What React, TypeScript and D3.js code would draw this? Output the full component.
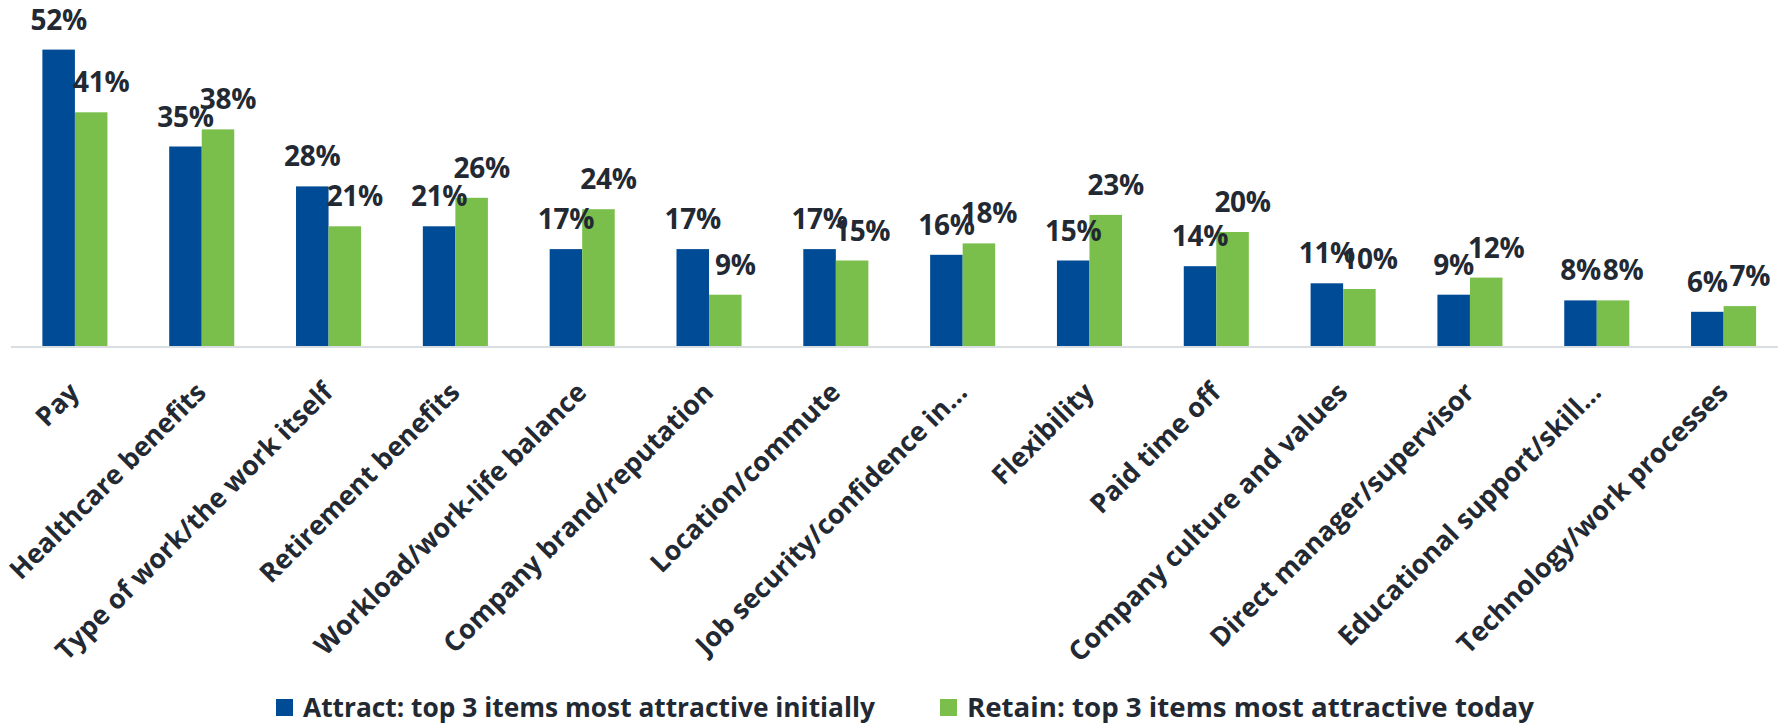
import React from "react";
import * as d3 from "d3";

const categories = [
  "Pay",
  "Healthcare benefits",
  "Type of work/the work itself",
  "Retirement benefits",
  "Workload/work-life balance",
  "Company brand/reputation",
  "Location/commute",
  "Job security/confidence in…",
  "Flexibility",
  "Paid time off",
  "Company culture and values",
  "Direct manager/supervisor",
  "Educational support/skill…",
  "Technology/work processes",
];

const attractValues = [52, 35, 28, 21, 17, 17, 17, 16, 15, 14, 11, 9, 8, 6];
const retainValues = [41, 38, 21, 26, 24, 9, 15, 18, 23, 20, 10, 12, 8, 7];

const seriesNames = [
  "Attract: top 3 items most attractive initially",
  "Retain: top 3 items most attractive today",
];
const seriesColors = ["#004B96", "#7ABF4B"];

const W = 1787;
const H = 725;
const FONT = "'Open Sans', 'Noto Sans', sans-serif";
const TEXT = "#222933";

export default function App() {
  const x0 = d3
    .scaleBand<string>()
    .domain(categories)
    .range([11.5, 1787])
    .paddingInner(0.487)
    .paddingOuter(0.2435);
  const x1 = d3
    .scaleBand<string>()
    .domain(seriesNames)
    .range([0, x0.bandwidth()]);
  const y = d3.scaleLinear().domain([0, 60]).range([346, 346 - 60 * 5.7]);

  const series = [attractValues, retainValues];
  const legendX = [276, 940];
  const legendLen = [572, 567];

  return (
    <div style={{ position: "absolute", left: 0, top: 0, width: W, height: H, background: "#fff" }}>
      <svg width={W} height={H} style={{ display: "block" }}>
        <rect width={W} height={H} fill="#fff" />
        {series.map((vals, si) =>
          categories.map((c, i) => {
            const bx = (x0(c) ?? 0) + (x1(seriesNames[si]) ?? 0);
            return (
              <rect
                key={`b-${si}-${i}`}
                x={bx}
                y={y(vals[i])}
                width={x1.bandwidth()}
                height={y(0) - y(vals[i])}
                fill={seriesColors[si]}
              />
            );
          })
        )}
        <line x1={11} x2={1778} y1={347} y2={347} stroke="#D9DEE3" strokeWidth={2} />
        {series.map((vals, si) =>
          categories.map((c, i) => {
            const cx = (x0(c) ?? 0) + (x1(seriesNames[si]) ?? 0) + x1.bandwidth() / 2 + (si === 1 ? 10 : 0);
            return (
              <text
                key={`l-${si}-${i}`}
                x={cx}
                y={y(vals[i]) - 20}
                textAnchor="middle"
                fontFamily={FONT}
                fontWeight={700}
                fontSize={28}
                letterSpacing={-0.3}
                fill={TEXT}
              >
                {vals[i]}%
              </text>
            );
          })
        )}
        {categories.map((c) => {
          const cx = (x0(c) ?? 0) + x0.bandwidth() / 2 + 6;
          const cy = 394;
          return (
            <text
              key={`c-${c}`}
              x={cx}
              y={cy}
              textAnchor="end"
              transform={`rotate(-45 ${cx} ${cy})`}
              fontFamily={FONT}
              fontWeight={700}
              fontSize={26.8}
              fill={TEXT}
            >
              {c}
            </text>
          );
        })}
        {seriesNames.map((s, si) => {
          const lx = legendX[si];
          return (
            <g key={`lg-${si}`}>
              <rect x={lx} y={699} width={17} height={17} fill={seriesColors[si]} />
              <text
                x={lx + 27}
                y={717}
                fontFamily={FONT}
                fontWeight={700}
                fontSize={26}
                textLength={legendLen[si]}
                lengthAdjust="spacingAndGlyphs"
                fill={TEXT}
              >
                {s}
              </text>
            </g>
          );
        })}
      </svg>
    </div>
  );
}
